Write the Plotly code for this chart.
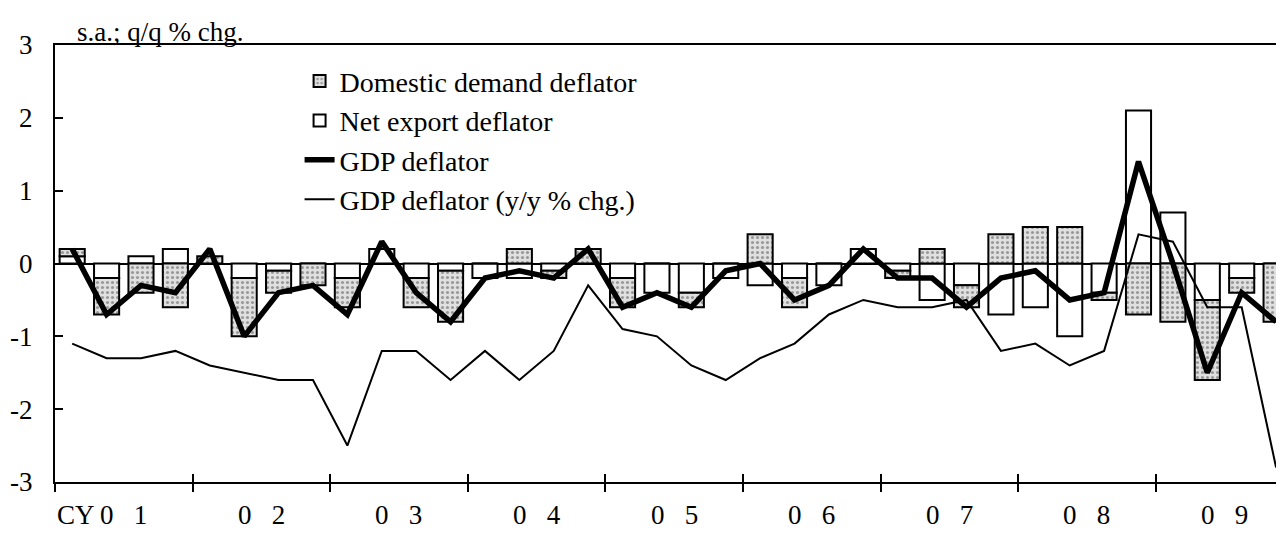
import numpy as np
import plotly.graph_objects as go

# ---------------- data ----------------
years = ["01", "02", "03", "04", "05", "06", "07", "08", "09"]
quarters = [f"20{y}Q{q}" for y in years for q in (1, 2, 3, 4)]

domestic = [0.1, -0.5, -0.4, -0.6, 0.1, -0.8, -0.3, -0.3, -0.4, 0.0, -0.4, -0.7,
            0.0, 0.2, -0.1, 0.2, -0.4, 0.0, -0.2, 0.0, 0.4, -0.4, 0.0, 0.0,
            -0.1, 0.2, -0.3, 0.4, 0.5, 0.5, -0.1, -0.7, -0.8, -1.1, -0.2, -0.8]
net_export = [0.1, -0.2, 0.1, 0.2, 0.0, -0.2, -0.1, 0.0, -0.2, 0.2, -0.2, -0.1,
              -0.2, -0.2, -0.1, 0.0, -0.2, -0.4, -0.4, -0.2, -0.3, -0.2, -0.3, 0.2,
              -0.1, -0.5, -0.3, -0.7, -0.6, -1.0, -0.4, 2.1, 0.7, -0.5, -0.2, 0.0]
gdp_qq = [0.2, -0.7, -0.3, -0.4, 0.2, -1.0, -0.4, -0.3, -0.7, 0.3, -0.4, -0.8,
          -0.2, -0.1, -0.2, 0.2, -0.6, -0.4, -0.6, -0.1, 0.0, -0.5, -0.3, 0.2,
          -0.2, -0.2, -0.6, -0.2, -0.1, -0.5, -0.4, 1.4, 0.0, -1.5, -0.4, -0.8]
gdp_yy = [-1.1, -1.3, -1.3, -1.2, -1.4, -1.5, -1.6, -1.6, -2.5, -1.2, -1.2, -1.6,
          -1.2, -1.6, -1.2, -0.3, -0.9, -1.0, -1.4, -1.6, -1.3, -1.1, -0.7, -0.5,
          -0.6, -0.6, -0.5, -1.2, -1.1, -1.4, -1.2, 0.4, 0.3, -0.6, -0.6, -2.8]

y_ticks = [3, 2, 1, 0, -1, -2, -3]
y_ticktext = ["3", "2", "1", "0", "-1", "-2", "-3"]

# ---------------- figure ----------------
FONT = "Liberation Serif, Times New Roman, serif"
FS = 27
x = np.arange(len(quarters))
boundaries = [i * 4 - 0.5 for i in range(len(years) + 1)]
centers = [i * 4 + 1.5 for i in range(len(years))]
xrange_ = [-0.5, 35.23]

fig = go.Figure()
fig.add_trace(go.Bar(
    x=x, y=net_export, name="Net export deflator", legendrank=2,
    width=0.73,
    marker=dict(color="white", line=dict(color="black", width=2)),
))
fig.add_trace(go.Bar(
    x=x, y=domestic, name="Domestic demand deflator", legendrank=1,
    width=0.73,
    marker=dict(color="#e0e0e0", line=dict(color="black", width=2),
                pattern=dict(shape=".", fgcolor="#505050", bgcolor="#e0e0e0",
                             size=5, solidity=0.3)),
))
fig.add_trace(go.Scatter(
    x=x, y=gdp_qq, name="GDP deflator", legendrank=3, mode="lines",
    line=dict(color="black", width=5.5),
))
fig.add_trace(go.Scatter(
    x=x, y=gdp_yy, name="GDP deflator (y/y % chg.)", legendrank=4, mode="lines",
    line=dict(color="black", width=2), xaxis="x2",
))

annotations = []
for yr, c in zip(years, centers):
    annotations.append(dict(
        x=c, xref="x", y=0, yref="paper", yshift=-33, yanchor="middle",
        text=yr[0] + "\u2002 " + yr[1], showarrow=False,
        font=dict(family=FONT, size=FS, color="black"),
    ))
annotations.append(dict(
    x=centers[0], xref="x", xshift=-27, xanchor="right",
    y=0, yref="paper", yshift=-33, yanchor="middle",
    text="CY", showarrow=False, font=dict(family=FONT, size=FS, color="black"),
))
annotations.append(dict(
    x=20 / 1229, xref="paper", xanchor="left",
    y=1, yref="paper", yshift=13, yanchor="middle",
    text="s.a.; q/q % chg.", showarrow=False,
    font=dict(family=FONT, size=FS, color="black"),
))

fig.update_layout(
    width=1276, height=528,
    margin=dict(l=47, r=0, t=37, b=54, autoexpand=False),
    paper_bgcolor="white", plot_bgcolor="white",
    barmode="relative", bargap=0.27,
    font=dict(family=FONT, size=FS, color="black"),
    showlegend=True,
    legend=dict(x=0.199, y=0.974, xanchor="left", yanchor="top",
                bgcolor="rgba(0,0,0,0)", font=dict(family=FONT, size=28),
                tracegroupgap=0, itemwidth=30),
    xaxis=dict(range=xrange_, tickmode="array", tickvals=boundaries,
               ticktext=[""] * len(boundaries), ticks="outside", ticklen=8,
               tickwidth=2, tickcolor="black", showline=True, linewidth=2,
               linecolor="black", mirror=True, showgrid=False, zeroline=False,
               automargin=False),
    xaxis2=dict(range=xrange_, overlaying="x", anchor="y", side="bottom",
                tickmode="array", tickvals=boundaries, ticks="inside", ticklen=8,
                tickwidth=2, tickcolor="black", showticklabels=False,
                showline=False, showgrid=False, zeroline=False, automargin=False),
    yaxis=dict(range=[-3, 3], tickmode="array", tickvals=y_ticks,
               ticktext=y_ticktext, ticks="inside", ticklen=8, tickwidth=2,
               tickcolor="black", showline=True, linewidth=2, linecolor="black",
               showgrid=False, zeroline=True, zerolinecolor="black",
               zerolinewidth=2, ticklabelstandoff=15, automargin=False,
               tickfont=dict(family=FONT, size=FS)),
    annotations=annotations,
)

fig.write_html("out.html")
